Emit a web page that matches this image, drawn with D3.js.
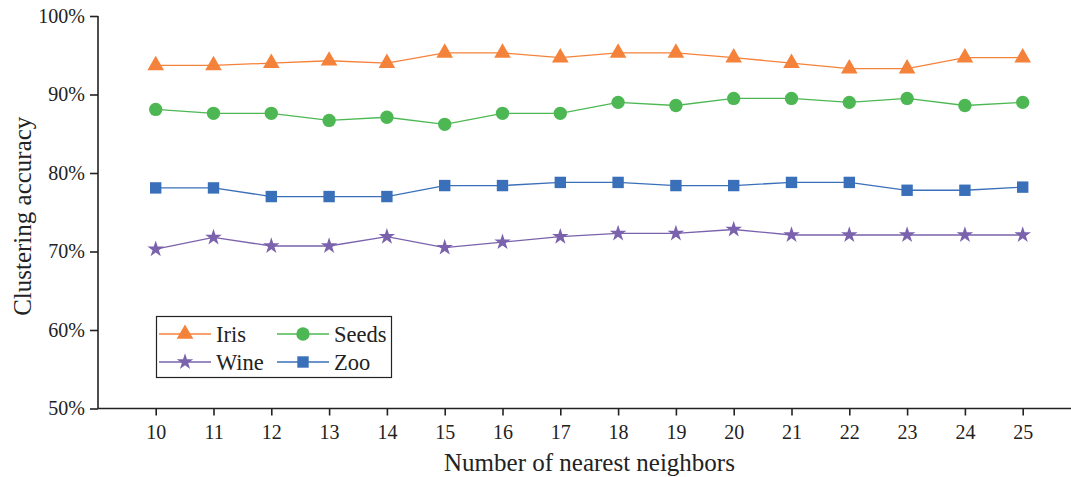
<!DOCTYPE html>
<html>
<head>
<meta charset="utf-8">
<script src="https://cdn.jsdelivr.net/npm/d3@7"></script>
<style>
  body { margin: 0; background: #fff; }
  svg { display: block; font-family: "Liberation Serif", "Times New Roman", serif; }
</style>
</head>
<body>
<div id="chart"></div>
<script>
// data
const neighbors = [10, 11, 12, 13, 14, 15, 16, 17, 18, 19, 20, 21, 22, 23, 24, 25];
const iris  = [93.7, 93.7, 94.0, 94.3, 94.0, 95.3, 95.3, 94.7, 95.3, 95.3, 94.7, 94.0, 93.3, 93.3, 94.7, 94.7];
const seeds = [88.1, 87.6, 87.6, 86.7, 87.1, 86.2, 87.6, 87.6, 89.0, 88.6, 89.5, 89.5, 89.0, 89.5, 88.6, 89.0];
const zoo   = [78.1, 78.1, 77.0, 77.0, 77.0, 78.4, 78.4, 78.8, 78.8, 78.4, 78.4, 78.8, 78.8, 77.8, 77.8, 78.2];
const wine  = [70.3, 71.8, 70.7, 70.7, 71.9, 70.5, 71.2, 71.9, 72.3, 72.3, 72.8, 72.1, 72.1, 72.1, 72.1, 72.1];
const yTicks = [50, 60, 70, 80, 90, 100];

const series = [
  {name: "Iris",  values: iris,  color: "#f5823a", symbol: d3.symbolTriangle, size: 120},
  {name: "Seeds", values: seeds, color: "#4db853", symbol: d3.symbolCircle,   size: 140},
  {name: "Wine",  values: wine,  color: "#7a62ad", symbol: d3.symbolStar,     size: 85},
  {name: "Zoo",   values: zoo,   color: "#3a70b9", symbol: d3.symbolSquare,   size: 130}
];

const W = 1071, H = 477;
const padL = 98, padB = 408.5, padT = 16;

//scales
const x = d3.scaleLinear().domain([10, 25]).range([155.7, 1022.7]);
const y = d3.scaleLinear().domain([50, 100]).range([padB, padT]);

const svg = d3.select("#chart").append("svg")
  .attr("width", W)
  .attr("height", H);

//axes
const yAxis = d3.axisLeft(y).tickValues(yTicks).tickSize(8).tickPadding(5)
  .tickFormat(d => d + "%");
const xAxis = d3.axisBottom(x).tickValues(neighbors).tickSize(7).tickPadding(9)
  .tickFormat(d3.format("d"));

const gy = svg.append("g").attr("transform", `translate(${padL},0)`).call(yAxis);
const gx = svg.append("g").attr("transform", `translate(0,${padB})`).call(xAxis);
gx.select(".domain").attr("d", `M${padL},0H${W}`);
gy.select(".domain").attr("d", `M0,${padB}V${padT}`);

[gx, gy].forEach(g => {
  g.selectAll(".domain, line").attr("stroke", "#222").attr("stroke-width", 1.6);
  g.selectAll("text").attr("font-size", 20).attr("fill", "#222")
    .attr("font-family", "Liberation Serif, serif");
});

//axis titles
svg.append("text")
  .attr("x", (padL + W) / 2 + 5)
  .attr("y", 471)
  .attr("text-anchor", "middle")
  .attr("font-size", 25)
  .attr("fill", "#222")
  .text("Number of nearest neighbors");

svg.append("text")
  .attr("transform", `translate(31,${(padT + padB) / 2 + 4}) rotate(-90)`)
  .attr("text-anchor", "middle")
  .attr("font-size", 25)
  .attr("fill", "#222")
  .text("Clustering accuracy");

//lines and markers
const line = d3.line().x((d, i) => x(neighbors[i])).y(d => y(d));

series.forEach(s => {
  svg.append("path")
    .datum(s.values)
    .attr("d", line)
    .attr("fill", "none")
    .attr("stroke", s.color)
    .attr("stroke-width", 1.3);

  svg.append("g").selectAll("path")
    .data(s.values)
    .join("path")
    .attr("transform", (d, i) => `translate(${x(neighbors[i])},${y(d)})`)
    .attr("d", d3.symbol(s.symbol, s.size))
    .attr("fill", s.color);
});

//legend
const legend = svg.append("g");
legend.append("rect")
  .attr("x", 156.5).attr("y", 316.5)
  .attr("width", 235).attr("height", 61)
  .attr("fill", "#fff")
  .attr("stroke", "#222")
  .attr("stroke-width", 1.2);

const legPos = [[159, 334], [277, 334], [159, 362], [277, 362]];
series.forEach((s, i) => {
  const [lx, ly] = legPos[i];
  legend.append("line")
    .attr("x1", lx).attr("x2", lx + 52)
    .attr("y1", ly).attr("y2", ly)
    .attr("stroke", s.color).attr("stroke-width", 1.3);
  legend.append("path")
    .attr("transform", `translate(${lx + 26},${ly})`)
    .attr("d", d3.symbol(s.symbol, s.size))
    .attr("fill", s.color);
  legend.append("text")
    .attr("x", lx + 57).attr("y", ly + 8)
    .attr("font-size", 22.5)
    .attr("fill", "#222")
    .text(s.name);
});
</script>
</body>
</html>
